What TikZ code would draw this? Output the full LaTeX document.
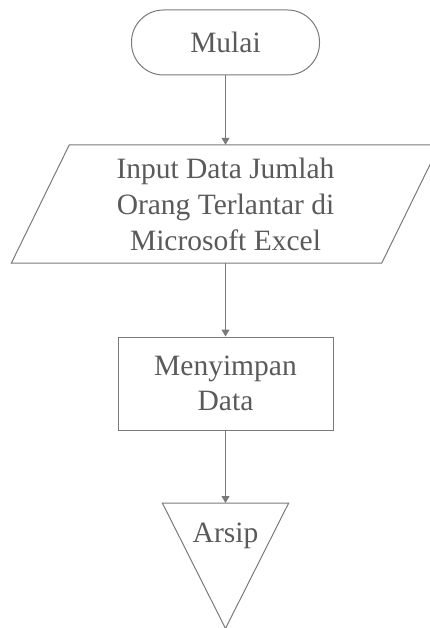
\documentclass[tikz,border=0pt]{standalone}
\usepackage{fontspec}
\setmainfont{Liberation Serif}
\usetikzlibrary{arrows.meta}
\definecolor{linegray}{HTML}{7A7A7A}
\definecolor{textgray}{HTML}{5A5A5A}
\tikzset{
  shapeline/.style={draw=linegray, line width=1pt},
  flowarrow/.style={draw=linegray, line width=1pt, -{Triangle[length=7pt,width=8pt]}},
  txt/.style={text=textgray, font=\fontsize{29.5pt}{36pt}\selectfont, align=center, inner sep=0pt},
}
\begin{document}
\begin{tikzpicture}[x=1pt,y=-1pt]
\useasboundingbox[fill=white] (0,0) rectangle (429,628);
% terminal
\node[shapeline, txt, rounded corners=32pt, minimum width=188pt, minimum height=65pt] (start) at (225.5,42.5) {Mulai};
% input parallelogram
\node[txt, minimum width=370pt, minimum height=118pt] (input) at (225.5,204) {Input Data Jumlah\\Orang Terlantar di\\Microsoft Excel};
\draw[shapeline] ([xshift=-29pt]input.south west) -- ([xshift=-29pt]input.south east) -- ([xshift=29pt]input.north east) -- ([xshift=29pt]input.north west) -- cycle;
% process
\node[shapeline, txt, minimum width=215pt, minimum height=93pt, font=\fontsize{29.5pt}{35pt}\selectfont] (save) at (225.5,383.5) {Menyimpan\\Data};
% archive triangle
\node[minimum width=126pt, minimum height=125pt, inner sep=0pt, anchor=north] (arsip) at (225.5,503) {};
\draw[shapeline] (arsip.north west) -- (arsip.north east) -- (arsip.south) -- cycle;
\node[txt] (arsiplabel) at ([yshift=-33pt]arsip.north) {Arsip};
% connectors
\draw[flowarrow] (start) -- (input);
\draw[flowarrow] (input) -- (save);
\draw[flowarrow] (save) -- (arsip);
\end{tikzpicture}
\end{document}
